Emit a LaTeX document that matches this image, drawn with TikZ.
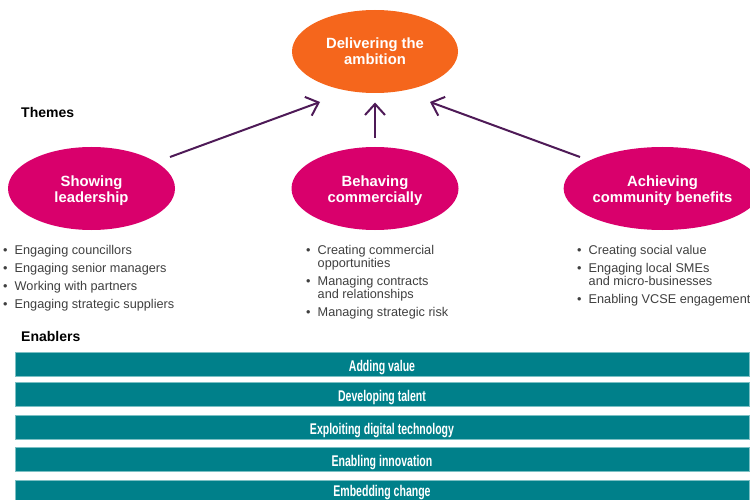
\documentclass[tikz,border=0pt]{standalone}
\usepackage{fontspec}
\setmainfont{Liberation Sans}
\newfontfamily\narrowfont[FakeStretch=0.68]{Liberation Sans}
\usepackage{xcolor}
\usepackage{tikz}
\usetikzlibrary{arrows.meta,positioning,shapes,calc}
\definecolor{ambitionorange}{HTML}{F5661C}
\definecolor{thememagenta}{HTML}{D9006C}
\definecolor{arrowpurple}{HTML}{4E1A57}
\definecolor{enablerteal}{HTML}{00808A}
\definecolor{enablerline}{HTML}{7CC0C4}
\definecolor{listgrey}{HTML}{3F3F3F}

% two centred lines, set a little lower than the box centre
\newcommand{\twolines}[1]{\raisebox{-2.3pt}[\height][\depth]{\begin{tabular}{@{}c@{}}#1\end{tabular}}}

\tikzset{
  theme/.style = {ellipse, fill = thememagenta, minimum width = 167, minimum height = 83, inner sep = 0pt,
    text = white, font = \fontsize{14.8}{16}\selectfont\bfseries},
  themearrow/.style = {-{Straight Barb[length=11pt, width=20pt]}, line width = 2pt, arrowpurple},
  enabler/.style = {rectangle, fill = enablerteal, draw = enablerline, line width = 1pt,
    minimum width = 734, minimum height = 24, inner sep = 0pt, text height = 16pt, text depth = 2pt,
    text = white, font = \narrowfont\fontsize{15.5}{17}\selectfont\bfseries},
  bullets/.style = {anchor = base west, inner sep = 0pt, text = listgrey, font = \fontsize{12.7}{13}\selectfont},
  heading/.style = {anchor = west, inner sep = 0pt, font = \fontsize{14}{16}\selectfont\bfseries}
}

\begin{document}
\begin{tikzpicture}[x = 1pt, y = -1pt]
  \useasboundingbox (0,0) rectangle (750,500);
  \clip (0,0) rectangle (750,500);
    \node[theme, fill = ambitionorange, minimum width = 166] (ambition) at (375,51.5) {\twolines{Delivering the\\ambition}};
    \node[heading] (themes) at (21,112) {Themes};
    \node[theme] (lead) at (91.5,188.5) {\twolines{Showing\\leadership}};
    \node[theme] (comm) at (375,188.5) {\twolines{Behaving\\commercially}};
    \node[theme] (benefits) at (662.5,188.5) {\twolines{Achieving\\community benefits}};
    % Arrows up to the ambition
    \draw[themearrow] ([shift={(78.5,-31.5)}]lead.center) -- ([shift={(-55,50.5)}]ambition.center);
    \draw[themearrow] ([shift={(0,-50.5)}]comm.center) -- ([shift={(0,51)}]ambition.center);
    \draw[themearrow] ([shift={(-82.5,-31.5)}]benefits.center) -- ([shift={(55,50.5)}]ambition.center);
    % Lists
    \node[bullets] (leadlist) at (3,254) {\begin{tabular}[t]{@{}p{11.5pt}@{}l@{}}
      \textbullet & Engaging councillors\\[5pt]
      \textbullet & Engaging senior managers\\[5pt]
      \textbullet & Working with partners\\[5pt]
      \textbullet & Engaging strategic suppliers
    \end{tabular}};
    \node[bullets] (commlist) at (306,254) {\begin{tabular}[t]{@{}p{11.5pt}@{}l@{}}
      \textbullet & Creating commercial\\
                  & opportunities\\[5pt]
      \textbullet & Managing contracts\\
                  & and relationships\\[5pt]
      \textbullet & Managing strategic risk
    \end{tabular}};
    \node[bullets] (benefitlist) at (577,254) {\begin{tabular}[t]{@{}p{11.5pt}@{}l@{}}
      \textbullet & Creating social value\\[5pt]
      \textbullet & Engaging local SMEs\\
                  & and micro-businesses\\[5pt]
      \textbullet & Enabling VCSE engagement
    \end{tabular}};
    % Enablers
    \node[heading] (enablers) at (21,336) {Enablers};
    \node[enabler] (value) at (382,364) {Adding value};
    \node[enabler] (talent) at (382,394) {Developing talent};
    \node[enabler] (digital) at (382,427) {Exploiting digital technology};
    \node[enabler] (innovation) at (382,459) {Enabling innovation};
    \node[enabler, minimum height = 21, text height = 14pt] (change) at (382,490.5) {Embedding change};
  \end{tikzpicture}
\end{document}
